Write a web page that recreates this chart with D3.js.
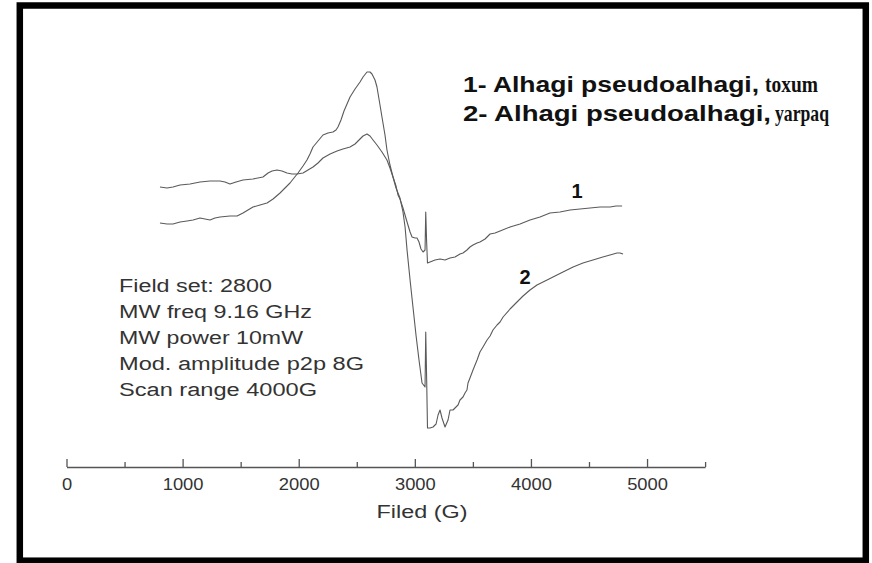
<!DOCTYPE html>
<html>
<head>
<meta charset="utf-8">
<script src="https://cdn.jsdelivr.net/npm/d3@7"></script>
<style>
  html, body { margin: 0; padding: 0; background: #ffffff; }
  svg { display: block; }
</style>
</head>
<body>
<svg id="chart" width="872" height="563"></svg>
<script>
// ---------------- DATA ----------------
// Field (G), signal (arbitrary units) for spectrum 1: Alhagi pseudoalhagi, toxum
const toxum = [
  [805,113],[866,112],[917,113],[978,115],[1064,116],[1150,118],[1236,119],[1322,119],
  [1365,118],[1408,116],[1460,118],[1520,120],[1606,121],[1692,123],[1736,127],[1770,129],
  [1813,130],[1856,129],[1899,127],[1942,126],[1985,126],[2037,127],[2080,130],[2123,133],
  [2166,137],[2209,142],[2270,146],[2330,149],[2381,151],[2442,153],[2485,156],[2528,161],
  [2554,164],[2588,166],[2614,164],[2640,160],[2674,155],[2717,148],[2760,140],[2786,132],
  [2812,123],[2838,114],[2855,105],[2872,101],[2898,92],[2933,78],[2959,68],[2976,63],
  [3002,62],[3019,62],[3036,58],[3053,51],[3071,48],[3088,50],[3094,88],[3101,60],
  [3109,37],[3131,38],[3174,40],[3217,41],[3260,40],[3303,42],[3346,43],[3389,46],
  [3415,47],[3449,50],[3475,53],[3501,55],[3536,57],[3561,58],[3605,61],[3648,66],
  [3691,67],[3734,69],[3820,73],[3906,76],[3992,80],[4078,83],[4164,87],[4250,88],
  [4337,90],[4423,91],[4509,92],[4595,93],[4681,93],[4733,94],[4785,94]
];
// spectrum 2: Alhagi pseudoalhagi, yarpaq
const yarpaq = [
  [805,77],[866,76],[917,76],[978,78],[1038,79],[1090,80],[1150,82],[1193,81],[1236,80],
  [1279,82],[1322,83],[1408,84],[1469,84],[1520,87],[1563,90],[1606,93],[1667,95],
  [1727,97],[1779,101],[1839,107],[1882,112],[1925,117],[1959,122],[1994,127],[2037,134],
  [2071,140],[2097,146],[2123,153],[2166,159],[2209,165],[2252,167],[2295,168],[2321,170],
  [2338,173],[2364,180],[2390,189],[2416,196],[2442,203],[2485,211],[2528,218],[2554,223],
  [2588,228],[2614,228],[2631,226],[2657,220],[2674,213],[2700,195],[2717,183],[2743,165],
  [2760,150],[2786,135],[2812,123],[2838,112],[2872,102],[2898,88],[2916,73],[2933,50],
  [2959,20],[2984,-7],[3010,-35],[3036,-60],[3062,-83],[3088,-87],[3094,-32],[3102,-80],
  [3109,-128],[3131,-128],[3157,-127],[3183,-124],[3200,-115],[3217,-110],[3234,-118],
  [3260,-127],[3286,-120],[3303,-110],[3329,-110],[3346,-108],[3372,-105],[3389,-100],
  [3415,-97],[3432,-93],[3449,-90],[3458,-83],[3475,-78],[3501,-70],[3536,-60],[3561,-52],
  [3587,-47],[3622,-40],[3648,-36],[3673,-30],[3708,-25],[3734,-22],[3760,-17],[3820,-9],
  [3880,-2],[3932,4],[3992,10],[4052,15],[4139,20],[4207,24],[4276,28],[4363,33],
  [4448,37],[4534,40],[4619,43],[4681,45],[4741,47],[4767,47],[4793,46]
];
const majorTicks = [0, 1000, 2000, 3000, 4000, 5000];
const minorTicks = [500, 1500, 2500, 3500, 4500, 5500];
const xTitle = "Filed (G)";
const legendNames = ["Alhagi pseudoalhagi,", "Alhagi pseudoalhagi,"];
const legendParts = ["toxum", "yarpaq"];
const curveLabels = ["1", "2"];
const settings = [
  "Field set: 2800",
  "MW freq 9.16 GHz",
  "MW power 10mW",
  "Mod. amplitude p2p 8G",
  "Scan range 4000G"
];

// ---------------- CHART ----------------
const svg = d3.select("#chart");
svg.append("rect").attr("width", 872).attr("height", 563).attr("fill", "#ffffff");

const x = d3.scaleLinear().domain([0, 5500]).range([66.5, 705.1]);
const y = d3.scaleLinear().domain([-167, 228]).range([467, 72]);

const line = d3.line().x(d => x(d[0])).y(d => y(d[1])).curve(d3.curveLinear);

[toxum, yarpaq].forEach(s => {
  svg.append("path")
    .datum(s)
    .attr("d", line)
    .attr("fill", "none")
    .attr("stroke", "#5a5a5a")
    .attr("stroke-width", 1.1)
    .attr("stroke-linejoin", "round");
});

// axis
const axisG = svg.append("g").attr("transform", "translate(0,467)");
axisG.call(
  d3.axisBottom(x).tickValues(majorTicks).tickFormat(d3.format("d"))
    .tickSizeInner(-8).tickSizeOuter(0).tickPadding(12)
);
axisG.select(".domain").attr("stroke", "#555").attr("stroke-width", 1.3);
axisG.selectAll(".tick line").attr("stroke", "#555").attr("stroke-width", 1.3);
axisG.selectAll(".tick text")
  .attr("font-family", "'Liberation Sans', Arial, sans-serif")
  .attr("font-size", 16)
  .attr("fill", "#333")
  .attr("textLength", d => String(d).length * 10.2)
  .attr("lengthAdjust", "spacingAndGlyphs");

const minorG = svg.append("g").attr("transform", "translate(0,467)");
minorG.call(d3.axisBottom(x).tickValues(minorTicks).tickSize(-5).tickFormat(""));
minorG.select(".domain").remove();
minorG.selectAll(".tick line").attr("stroke", "#555").attr("stroke-width", 1.3);

svg.append("text")
  .attr("x", 422).attr("y", 518)
  .attr("text-anchor", "middle")
  .attr("font-family", "'Liberation Sans', Arial, sans-serif")
  .attr("font-size", 18)
  .attr("fill", "#333")
  .attr("textLength", 91)
  .attr("lengthAdjust", "spacingAndGlyphs")
  .text(xTitle);

// settings block
const setW = [153, 193, 184, 245, 198];
settings.forEach((t, i) => {
  svg.append("text")
    .attr("x", 119).attr("y", 292 + i * 26)
    .attr("font-family", "'Liberation Sans', Arial, sans-serif")
    .attr("font-size", 18)
    .attr("fill", "#333")
    .attr("textLength", setW[i])
    .attr("lengthAdjust", "spacingAndGlyphs")
    .text(t);
});

// legend
const legY = [92, 121];
const legNameW = [296, 308];
const legPartX = [765, 775];
const legPartW = [53, 54];
legendNames.forEach((n, i) => {
  svg.append("text")
    .attr("x", 463).attr("y", legY[i])
    .attr("font-family", "'Liberation Sans Narrow', 'Liberation Sans', sans-serif")
    .attr("font-weight", "bold")
    .attr("font-size", 22)
    .attr("fill", "#111")
    .attr("textLength", legNameW[i])
    .attr("lengthAdjust", "spacingAndGlyphs")
    .text(curveLabels[i] + "- " + n);
  svg.append("text")
    .attr("x", legPartX[i]).attr("y", legY[i])
    .attr("font-family", "'Liberation Serif', 'Times New Roman', serif")
    .attr("font-weight", "bold")
    .attr("font-size", 23)
    .attr("fill", "#111")
    .attr("textLength", legPartW[i])
    .attr("lengthAdjust", "spacingAndGlyphs")
    .text(legendParts[i]);
});

// curve labels
const labelAt = [[4397, toxum], [3950, yarpaq]];
const labelDy = [-11, -12];
labelAt.forEach((la, i) => {
  const s = la[1];
  const pt = s.reduce((a, b) => Math.abs(b[0] - la[0]) < Math.abs(a[0] - la[0]) ? b : a);
  svg.append("text")
    .attr("x", x(la[0]))
    .attr("y", y(pt[1]) + labelDy[i])
    .attr("text-anchor", "middle")
    .attr("font-family", "'Liberation Sans', Arial, sans-serif")
    .attr("font-weight", "bold")
    .attr("font-size", 20)
    .attr("fill", "#111")
    .text(curveLabels[i]);
});

// frame
svg.append("rect")
  .attr("x", 19.8).attr("y", 5.5)
  .attr("width", 846).attr("height", 555.2)
  .attr("fill", "none")
  .attr("stroke", "#000")
  .attr("stroke-width", 6.5);
</script>
</body>
</html>
